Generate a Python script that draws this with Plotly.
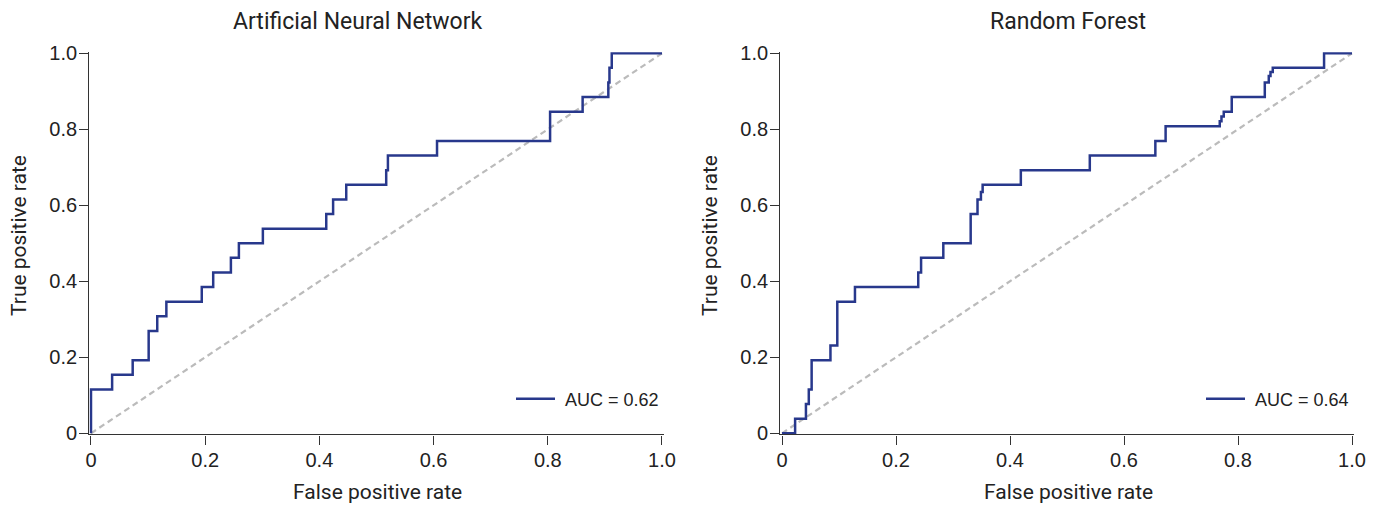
import plotly.graph_objects as go

# ---------------- data ----------------
ann_fpr = [0, 0, 0.037, 0.073, 0.101, 0.116, 0.132, 0.194, 0.214, 0.245, 0.259, 0.301,
           0.412, 0.424, 0.447, 0.517, 0.520, 0.606, 0.804, 0.861, 0.906, 0.908, 0.912, 1.0]
ann_tpr = [0, 0.115, 0.154, 0.192, 0.269, 0.308, 0.346, 0.385, 0.423, 0.462, 0.500, 0.538,
           0.577, 0.615, 0.654, 0.692, 0.731, 0.769, 0.846, 0.885, 0.923, 0.962, 1.0, 1.0]

rf_fpr = [0, 0.023, 0.042, 0.047, 0.052, 0.085, 0.097, 0.128, 0.239, 0.244, 0.283, 0.331,
          0.343, 0.349, 0.352, 0.419, 0.540, 0.655, 0.673, 0.768, 0.771, 0.775, 0.789,
          0.847, 0.854, 0.857, 0.861, 0.951, 1.0]
rf_tpr = [0, 0.038, 0.077, 0.115, 0.192, 0.231, 0.346, 0.385, 0.423, 0.462, 0.500, 0.577,
          0.615, 0.635, 0.654, 0.692, 0.731, 0.769, 0.808, 0.821, 0.834, 0.846, 0.885,
          0.923, 0.940, 0.951, 0.962, 1.0, 1.0]

chance = [0, 1]
titles = ["Artificial Neural Network", "Random Forest"]
auc_labels = ["AUC = 0.62", "AUC = 0.64"]
tick_vals = [0, 0.2, 0.4, 0.6, 0.8, 1.0]
tick_text = ["0", "0.2", "0.4", "0.6", "0.8", "1.0"]

# ---------------- layout helpers ----------------
OFF = 8                      # page body margin
W, H = 1383 - OFF, 507 - OFF
PAD = 0.003
curve_color = "#28388c"
tick_font = dict(family="Liberation Sans, Arial", size=20, color="#222")
legend_font = dict(family="Liberation Sans, Arial", size=18, color="#222")
label_font = dict(family="Roboto, Open Sans", size=21, color="#222")
title_font = dict(family="Roboto, Open Sans", size=23, color="#222")


def px(x):
    return (x - OFF) / W


def py(y):
    return 1 - (y - OFF) / H


def dom_x(p0, p1):
    span = p1 - p0
    return [px(p0 - PAD * span), px(p1 + PAD * span)]


def dom_y(p_top, p_bottom):
    span = p_bottom - p_top
    return [py(p_bottom + PAD * span), py(p_top - PAD * span)]


Y_TOP, Y_BOT = 53.3, 433.3
panels = [(91, 662), (782, 1352)]

fig = go.Figure()

data = [(ann_fpr, ann_tpr), (rf_fpr, rf_tpr)]
for i, (fx, ty) in enumerate(data):
    xa = "x" if i == 0 else "x2"
    ya = "y" if i == 0 else "y2"
    fig.add_trace(go.Scatter(x=chance, y=chance, mode="lines", xaxis=xa, yaxis=ya,
                             line=dict(color="#bbbbbb", width=2.2, dash="6px,4px"),
                             showlegend=False, hoverinfo="skip"))
    fig.add_trace(go.Scatter(x=fx, y=ty, mode="lines", xaxis=xa, yaxis=ya,
                             line=dict(color=curve_color, width=2.5, shape="hv"),
                             name="\u00a0" + auc_labels[i], showlegend=True,
                             legend="legend" if i == 0 else "legend2"))

axis_common = dict(range=[-PAD, 1 + PAD], showgrid=False, zeroline=False,
                   showline=True, linecolor="#333", linewidth=1.3,
                   ticks="outside", ticklen=9, tickwidth=1.3, tickcolor="#333",
                   tickvals=tick_vals, ticktext=tick_text, tickfont=tick_font,
                   automargin=False)

legend_common = dict(xanchor="left", yanchor="middle", bgcolor="rgba(0,0,0,0)",
                     font=legend_font, itemwidth=39)

fig.update_layout(
    width=W, height=H,
    margin=dict(l=0, r=0, t=0, b=0, pad=0, autoexpand=False),
    paper_bgcolor="white", plot_bgcolor="white",
    xaxis=dict(domain=dom_x(*panels[0]), anchor="y", ticklabelstandoff=-2, **axis_common),
    yaxis=dict(domain=dom_y(Y_TOP, Y_BOT), anchor="x", ticklabelstandoff=-2, **axis_common),
    xaxis2=dict(domain=dom_x(*panels[1]), anchor="y2", ticklabelstandoff=-2, **axis_common),
    yaxis2=dict(domain=dom_y(Y_TOP, Y_BOT), anchor="x2", ticklabelstandoff=-2, **axis_common),
    legend=dict(x=px(511), y=py(399), **legend_common),
    legend2=dict(x=px(1201), y=py(399), **legend_common),
)

annotations = []
title_pos = [(358, 21), (1068, 21)]
for i, (p0, p1) in enumerate(panels):
    cx = (p0 + p1) / 2
    annotations.append(dict(text=titles[i], x=px(title_pos[i][0]), y=py(title_pos[i][1]),
                            xref="paper", yref="paper", showarrow=False,
                            xanchor="center", yanchor="middle", font=title_font))
    annotations.append(dict(text="False positive rate", x=px(cx + 1), y=py(492),
                            xref="paper", yref="paper", showarrow=False,
                            xanchor="center", yanchor="middle", font=label_font))
    annotations.append(dict(text="True positive rate", x=px(p0 - 72), y=py(236),
                            xref="paper", yref="paper", showarrow=False, textangle=-90,
                            xanchor="center", yanchor="middle", font=label_font))
fig.update_layout(annotations=annotations)

fig.write_html("out.html")
